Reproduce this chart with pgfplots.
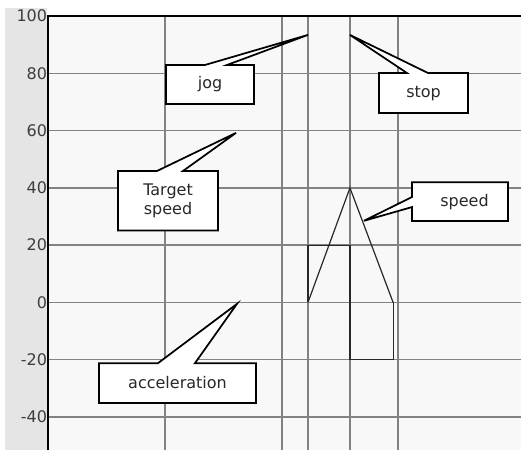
\documentclass[border=0pt]{standalone}
\usepackage{fontspec}
\setmainfont{DejaVu Sans}
\usepackage{pgfplots}
\pgfplotsset{compat=1.18}
\definecolor{gridgray}{RGB}{130,130,130}
\definecolor{stripgray}{RGB}{229,229,229}
\definecolor{plotbg}{RGB}{248,248,248}
\definecolor{ink}{RGB}{40,40,40}

\begin{document}
\begin{tikzpicture}[
    callout/.style={fill=white, draw=black, line width=1.3pt, line join=miter},
    lbl/.style={font=\fontsize{12}{14}\selectfont, text=ink, align=center}
]
% page is 521x450 px at 0.75pt per px
\useasboundingbox (0,0) rectangle (390.75pt,337.5pt);
\fill[white] (0,0) rectangle (390.75pt,337.5pt);
\fill[stripgray] (3.75pt,0) rectangle (35pt,331.5pt);

\begin{axis}[
    at={(36pt,0pt)}, anchor=south west,
    scale only axis,
    width=354.75pt, height=325.5pt,
    xmin=0, xmax=4.043,
    ymin=-51.5, ymax=100,
    axis line style={draw=none},
    axis background/.style={fill=plotbg},
    xtick={1,2,2.222,2.581,2.991},
    xticklabels={},
    ytick={-40,-20,0,20,40,60,80,100},
    major tick length=0pt,
    grid=major,
    major grid style={draw=gridgray, line width=1.1pt},
    yticklabel style={font=\fontsize{12}{14}\selectfont, text=ink!90, anchor=east, inner sep=0.5pt},
    /pgf/number format/assume math mode=true,
    clip=false
]

% acceleration
\addplot[ink, line width=0.9pt, line join=miter] coordinates {
    (2.222,0) (2.222,20) (2.581,20) (2.581,-20) (2.95,-20) (2.95,0)
};
% speed
\addplot[ink, line width=0.9pt, line join=miter] coordinates {
    (2.222,0) (2.581,40) (2.95,0)
};

% frame: left and top only
\draw[black, line width=2.2pt] (axis cs:0,-51.5) -- (axis cs:0,100) -- (axis cs:4.043,100);

% callouts
\draw[callout] (axis cs:1.009,69.3) -- (axis cs:1.009,82.9) -- (axis cs:1.342,82.9)
    -- (axis cs:2.222,93.4) -- (axis cs:1.530,82.9) -- (axis cs:1.761,82.9)
    -- (axis cs:1.761,69.3) -- cycle;
\node[lbl] at (axis cs:1.385,76.1) {jog};

\draw[callout] (axis cs:2.829,66.1) -- (axis cs:2.829,80.1) -- (axis cs:3.068,80.1)
    -- (axis cs:2.581,93.4) -- (axis cs:3.248,80.1) -- (axis cs:3.590,80.1)
    -- (axis cs:3.590,66.1) -- cycle;
\node[lbl] at (axis cs:3.21,73.1) {stop};

\draw[callout] (axis cs:0.598,25.1) -- (axis cs:0.598,45.9) -- (axis cs:0.932,45.9)
    -- (axis cs:1.607,59.2) -- (axis cs:1.154,45.9) -- (axis cs:1.453,45.9)
    -- (axis cs:1.453,25.1) -- cycle;
\node[lbl] at (axis cs:1.026,35.5) {Target\\speed};

\draw[callout] (axis cs:3.111,28.4) -- (axis cs:3.111,33.3) -- (axis cs:2.70,28.5)
    -- (axis cs:3.111,36.8) -- (axis cs:3.111,42.0) -- (axis cs:3.932,42.0)
    -- (axis cs:3.932,28.4) -- cycle;
\node[lbl] at (axis cs:3.56,35.2) {speed};

\draw[callout] (axis cs:0.436,-35.1) -- (axis cs:0.436,-21.2) -- (axis cs:0.940,-21.2)
    -- (axis cs:1.615,-0.5) -- (axis cs:1.256,-21.2) -- (axis cs:1.778,-21.2)
    -- (axis cs:1.778,-35.1) -- cycle;
\node[lbl] at (axis cs:1.107,-28.1) {acceleration};

\end{axis}
\end{tikzpicture}
\end{document}
